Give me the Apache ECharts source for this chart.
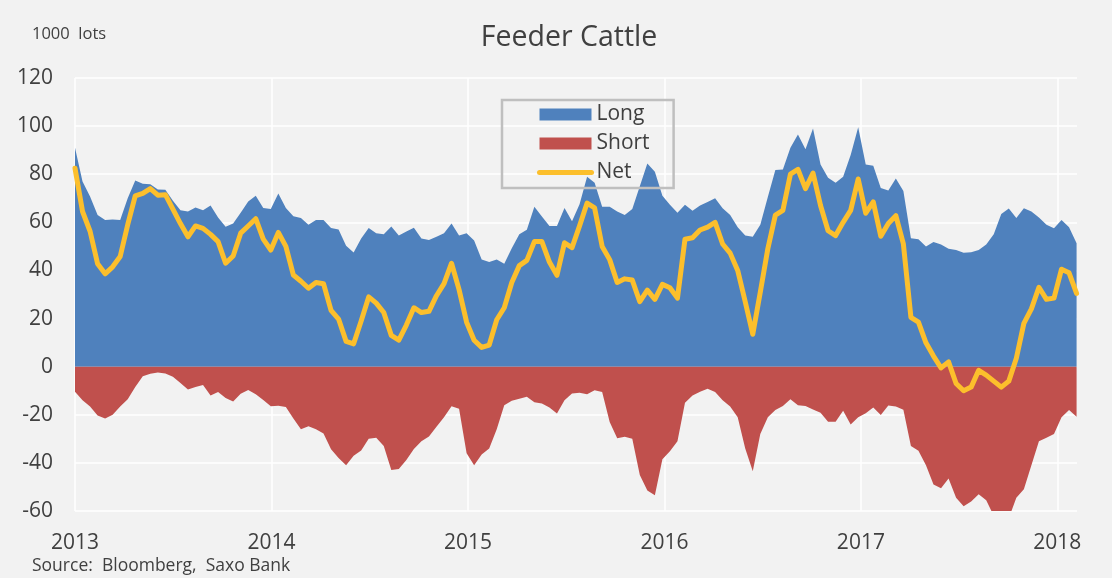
<!DOCTYPE html>
<html>
<head>
<meta charset="utf-8">
<script src="https://cdn.jsdelivr.net/npm/echarts@6/dist/echarts.min.js"></script>
<style>
  html, body { margin: 0; padding: 0; background: #f2f2f2; }
  #chart { width: 1112px; height: 578px; }
</style>
</head>
<body>
<div id="chart"></div>
<script>
// biweekly readings, starting first week of 2013
var startYear = 2013;
var stepDays = 14;

var long_pos = [
   91, 77, 70.7, 63, 61, 61.2, 61, 70, 77.4, 76, 75.8, 73.6, 73.5, 69, 65, 64.5, 66.2, 65, 67, 62,
   58.2, 59.5, 64, 68.7, 71, 66, 65.5, 72, 66, 62.5, 61.8, 59, 61, 61, 57.6, 57, 50.3, 47.5, 53.3, 57.6,
   55.5, 55, 58.3, 54.5, 56.2, 57.8, 53.3, 52.7, 54, 55.5, 59.5, 54.5, 55.5, 52.5, 44.5, 43.5, 44.5, 42.8, 49.2, 55,
   56.9, 66.5, 62.4, 58.5, 58.5, 66, 60.5, 67.5, 79, 76.5, 66.5, 66.5, 64.5, 63, 65.5, 75, 84.5, 81, 71, 67.3,
   64, 67.3, 64.8, 67, 68.5, 70, 65.9, 63, 58, 54.5, 54, 59, 70.5, 81.8, 82, 91, 96.5, 90.4, 99, 84,
   78.5, 76.5, 79, 88, 99.5, 84, 83.5, 74.3, 73.2, 78.2, 73, 53.4, 53, 50, 51.8, 50.8, 49, 48.5, 47.4, 47.6,
   48.5, 50.8, 55, 63.5, 65.8, 61.8, 65.9, 64.5, 62, 59, 57.5, 61, 58, 51.3
];

var short_pos = [
   -10.4, -14, -16.6, -20.3, -21.5, -20, -16.6, -13.5, -8.5, -4, -2.9, -2.4, -2.8, -4.2, -6.8, -9.5, -8.5, -7.6, -12, -10.5,
   -13, -14.5, -11.3, -9.7, -11.5, -13.9, -16.5, -16.2, -16.8, -21.5, -26, -24.8, -26, -27.8, -34.3, -38, -41, -37, -34.8, -30,
   -29.5, -33, -43, -42.5, -38.8, -34.2, -31, -29, -25, -21, -16.5, -17.5, -36, -41, -36.5, -34, -26, -16, -14.2, -13.3,
   -12.5, -14.8, -15.3, -17, -19.5, -14, -11.2, -10.8, -11.5, -9.8, -10.5, -23, -29.8, -29.1, -30, -45, -51.5, -53.5, -38.5, -35.2,
   -31, -15, -12, -10.4, -9.2, -10.5, -14, -16.6, -21, -34, -43.5, -28, -21, -18, -16.3, -13.5, -16, -16.3, -17.8, -19.2,
   -22.9, -22.9, -18.3, -24, -21, -19.4, -17, -20.1, -16.1, -16.6, -17.9, -33, -35, -41, -49, -50.5, -46.5, -54.5, -58, -56,
   -53, -55.5, -62, -62, -63, -54.5, -51, -41, -31, -29.5, -28, -21, -18, -20.8
];

var net_pos = [
   82.5, 64.5, 56.3, 42.8, 38.6, 41.5, 45.8, 59, 71, 72, 74, 71.3, 71.5, 65.5, 59.5, 54, 58.5, 57.5, 55, 52,
   43, 46, 55.5, 58.5, 61.5, 53, 48.5, 55.8, 50, 38.1, 35.5, 32.6, 35, 34.5, 23.4, 19.8, 10.5, 9.5, 19, 29,
   26.4, 22.5, 13, 11, 17.3, 24.5, 22.5, 23, 29.5, 34.5, 43, 32, 18.5, 11, 8, 9, 19.5, 24.5, 35, 42,
   44.2, 52, 52, 43.5, 38, 51.5, 49.5, 58.5, 68, 66, 50, 44.5, 35, 36.5, 36, 27, 31.8, 28, 34.2, 32.8,
   28.5, 53, 53.6, 56.8, 58, 60, 51, 47.2, 40, 27, 13.5, 31, 49, 63, 65, 80, 82, 74, 80.5, 67,
   56.5, 54.5, 60, 65, 78, 63.8, 68.5, 54.2, 59.5, 62.8, 51, 20.5, 18.5, 9.9, 4.4, -0.5, 2, -7, -10, -8.5,
   -1.5, -3.5, -6, -8.5, -6, 3.5, 18, 24, 33, 28, 28.5, 40.5, 39, 30.5
];

var years = [2013, 2014, 2015, 2016, 2017, 2018];
var y_ticks = [-60, -40, -20, 0, 20, 40, 60, 80, 100, 120];

function draw_chart(){
   var font = "'Open Sans', 'DejaVu Sans', sans-serif";
   var txt = "#404040";
   var gold = "#fcbf2c";

   var to_pairs = (arr) => arr.map((v, i) => [startYear + i * stepDays / 365.25, v]);

   var option = {
      backgroundColor: "#f2f2f2",
      animation: false,
      textStyle: { fontFamily: font, color: txt },
      grid: { left: 75, right: 35, top: 78, bottom: 67 },
      legend: {
         orient: "vertical",
         left: 502,
         top: 100,
         padding: [4, 24, 5, 35],
         itemGap: 8,
         itemWidth: 52,
         itemHeight: 12,
         borderColor: "#bfbfbf",
         borderWidth: 2.5,
         textStyle: { fontFamily: font, fontSize: 21, color: txt },
         data: [
            { name: "Long", icon: "rect" },
            { name: "Short", icon: "rect" },
            { name: "Net", itemStyle: { opacity: 0 }, lineStyle: { width: 5, color: gold, cap: "round" } },
         ],
      },
      xAxis: {
         type: "value",
         min: years[0],
         max: 2018.1,
         interval: 1,
         axisLine: { show: false },
         axisTick: { show: false },
         axisLabel: {
            fontFamily: font,
            fontSize: 21,
            color: txt,
            margin: 22,
            showMaxLabel: false,
            formatter: (v) => (years.indexOf(Math.round(v)) >= 0 && Math.abs(v - Math.round(v)) < 1e-6) ? String(Math.round(v)) : "",
         },
         splitLine: { show: true, showMaxLine: false, lineStyle: { color: "#ffffff", width: 1.5 } },
      },
      yAxis: {
         type: "value",
         min: y_ticks[0],
         max: y_ticks[y_ticks.length - 1],
         interval: 20,
         axisLine: { show: false },
         axisTick: { show: false },
         axisLabel: { fontFamily: font, fontSize: 21, color: txt, margin: 22 },
         splitLine: { show: true, lineStyle: { color: "#ffffff", width: 1.5 } },
      },
      series: [
         {
            name: "Long",
            type: "line",
            data: to_pairs(long_pos),
            symbol: "none",
            color: "#4f81bd",
            lineStyle: { width: 0 },
            areaStyle: { color: "#4f81bd", opacity: 1 },
            z: 2,
         },
         {
            name: "Short",
            type: "line",
            data: to_pairs(short_pos),
            symbol: "none",
            color: "#c0504d",
            lineStyle: { width: 0 },
            areaStyle: { color: "#c0504d", opacity: 1 },
            z: 2,
         },
         {
            name: "Net",
            type: "line",
            data: to_pairs(net_pos),
            symbol: "none",
            color: gold,
            lineStyle: { width: 5, color: gold, cap: "round", join: "round" },
            z: 3,
         },
      ],
      graphic: [
         { type: "text", left: 32, top: 26, style: { text: "1000  lots", font: "16.5px " + font, fill: txt } },
         { type: "text", x: 569, y: 38, style: { text: "Feeder Cattle", font: "28.5px " + font, fill: txt, align: "center", verticalAlign: "middle" } },
         { type: "text", left: 32, top: 557, style: { text: "Source:  Bloomberg,  Saxo Bank", font: "17.5px " + font, fill: txt } },
      ],
   };

   var dom = document.querySelector("#chart");
   var myChart = echarts.init(dom);
   myChart.setOption(option, true);
}
draw_chart();
</script>
</body>
</html>
